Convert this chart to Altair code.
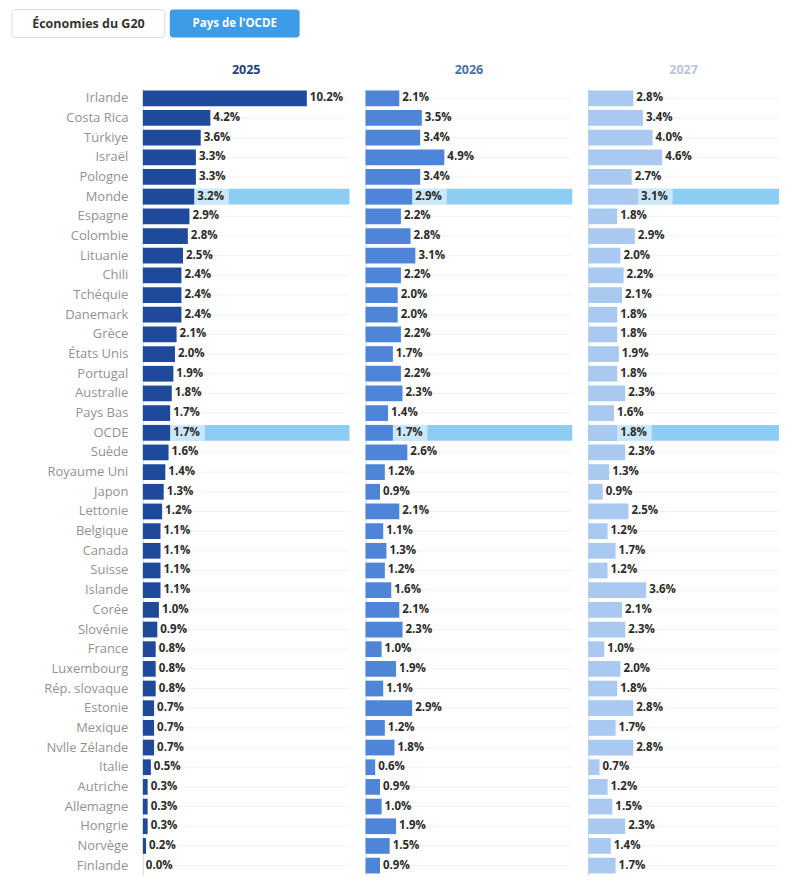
import altair as alt
import pandas as pd

countries = ["Irlande", "Costa Rica", "Türkiye", "Israël", "Pologne", "Monde", "Espagne",
             "Colombie", "Lituanie", "Chili", "Tchéquie", "Danemark", "Grèce", "États Unis",
             "Portugal", "Australie", "Pays Bas", "OCDE", "Suède", "Royaume Uni", "Japon",
             "Lettonie", "Belgique", "Canada", "Suisse", "Islande", "Corée", "Slovénie",
             "France", "Luxembourg", "Rép. slovaque", "Estonie", "Mexique", "Nvlle Zélande",
             "Italie", "Autriche", "Allemagne", "Hongrie", "Norvège", "Finlande"]
v2025 = [10.2, 4.2, 3.6, 3.3, 3.3, 3.2, 2.9, 2.8, 2.5, 2.4, 2.4, 2.4, 2.1, 2.0, 1.9, 1.8, 1.7,
         1.7, 1.6, 1.4, 1.3, 1.2, 1.1, 1.1, 1.1, 1.1, 1.0, 0.9, 0.8, 0.8, 0.8, 0.7, 0.7, 0.7,
         0.5, 0.3, 0.3, 0.3, 0.2, 0.0]
v2026 = [2.1, 3.5, 3.4, 4.9, 3.4, 2.9, 2.2, 2.8, 3.1, 2.2, 2.0, 2.0, 2.2, 1.7, 2.2, 2.3, 1.4,
         1.7, 2.6, 1.2, 0.9, 2.1, 1.1, 1.3, 1.2, 1.6, 2.1, 2.3, 1.0, 1.9, 1.1, 2.9, 1.2, 1.8,
         0.6, 0.9, 1.0, 1.9, 1.5, 0.9]
v2027 = [2.8, 3.4, 4.0, 4.6, 2.7, 3.1, 1.8, 2.9, 2.0, 2.2, 2.1, 1.8, 1.8, 1.9, 1.8, 2.3, 1.6,
         1.8, 2.3, 1.3, 0.9, 2.5, 1.2, 1.7, 1.2, 3.6, 2.1, 2.3, 1.0, 2.0, 1.8, 2.8, 1.7, 2.8,
         0.7, 1.2, 1.5, 2.3, 1.4, 1.7]
years = ["2025", "2026", "2027"]
highlight = ["Monde", "OCDE"]
buttons = ["Économies du G20", "Pays de l'OCDE"]

bar_colors = ["#1f4a9b", "#4f85d8", "#a9c9f1"]
title_colors = ["#23407a", "#4a6fa8", "#b9c4d8"]
HL_COLOR = "#8dcdf3"
FONT = "Open Sans"

PX_PER_UNIT = 16.1
PLOT_H = 788
widths = [207, 207, 191]


def panel(i, vals):
    w = widths[i]
    dmax = w / PX_PER_UNIT
    df = pd.DataFrame({
        "pays": countries,
        "v": vals,
        "label": [f"{x:.1f}%" for x in vals],
        "hl": [c in highlight for c in countries],
    })
    xs = alt.Scale(domain=[0, dmax], nice=False, zero=True)
    ys = alt.Scale(paddingInner=0.2, paddingOuter=0.1)
    if i == 0:
        yaxis = alt.Axis(title=None, labelFont=FONT, labelFontSize=13, labelColor="#929292",
                         labelPadding=15, ticks=False, tickSize=0, domain=True,
                         domainColor="#d8d8d8", minExtent=135, maxExtent=135, labelLimit=220)
    else:
        yaxis = alt.Axis(title=None, labels=False, ticks=False, tickSize=0, domain=True,
                         domainColor="#d8d8d8")
    y = alt.Y("pays:N", sort=countries, scale=ys, axis=yaxis)
    base = alt.Chart(df)

    grid = base.mark_rule(color="#f2f2f2", strokeWidth=1).encode(
        y=alt.Y("pays:N", sort=countries, scale=ys, axis=yaxis, bandPosition=0.5),
        x=alt.value(0), x2=alt.value(w),
    )
    hl = base.transform_filter(alt.datum.hl).mark_bar(color=HL_COLOR).encode(
        y=y, x=alt.value(0), x2=alt.value(w),
    )
    bars = base.mark_bar(color=bar_colors[i]).encode(
        y=y, x=alt.X("v:Q", scale=xs, axis=None),
    )
    lblbg = base.transform_filter(alt.datum.hl).transform_calculate(
        ve="datum.v + 2.15"
    ).mark_bar(color="#ffffff", opacity=0.55).encode(
        y=y, x=alt.X("v:Q", scale=xs, axis=None), x2="ve:Q",
    )
    text = base.mark_text(align="left", baseline="middle", dx=3, font=FONT,
                          fontWeight="bold", fontSize=11.5, color="#2b2b2b").encode(
        y=y, x=alt.X("v:Q", scale=xs, axis=None), text="label:N",
    )
    return alt.layer(grid, hl, bars, lblbg, text).properties(
        width=w, height=PLOT_H,
        title=alt.TitleParams(years[i], color=title_colors[i], fontSize=12.5,
                              fontWeight="bold", font=FONT, offset=12,
                              anchor="middle", frame="group"),
    )


b1 = alt.Chart(pd.DataFrame({"t": [buttons[0]]}))
b2 = alt.Chart(pd.DataFrame({"t": [buttons[1]]}))
btn1_rect = b1.mark_rect(fill="#ffffff", stroke="#dcdcdc", strokeWidth=1, cornerRadius=3).encode(
    x=alt.value(-131), x2=alt.value(22), y=alt.value(1), y2=alt.value(29))
btn1_text = b1.mark_text(font=FONT, fontWeight="bold", fontSize=12.5, color="#333333",
                         align="center", baseline="middle").encode(
    text="t:N", x=alt.value(-54.5), y=alt.value(15))
btn2_rect = b2.mark_rect(fill="#3d9ce8", cornerRadius=3).encode(
    x=alt.value(27), x2=alt.value(157), y=alt.value(1), y2=alt.value(29))
btn2_text = b2.mark_text(font=FONT, fontWeight="bold", fontSize=11.5, color="#ffffff",
                         align="center", baseline="middle").encode(
    text="t:N", x=alt.value(92), y=alt.value(15))
btns = alt.layer(btn1_rect, btn1_text, btn2_rect, btn2_text).properties(width=207, height=28)

panels = alt.hconcat(panel(0, v2025), panel(1, v2026), panel(2, v2027),
                     spacing=16, bounds="flush")

chart = alt.vconcat(btns, panels, spacing=52, bounds="flush").properties(
    padding={"left": 0, "top": 0, "right": 0, "bottom": 0},
    background="#ffffff",
).configure_view(strokeWidth=0, stroke="transparent")

chart.save("out.html", embed_options={"renderer": "svg", "actions": False})
